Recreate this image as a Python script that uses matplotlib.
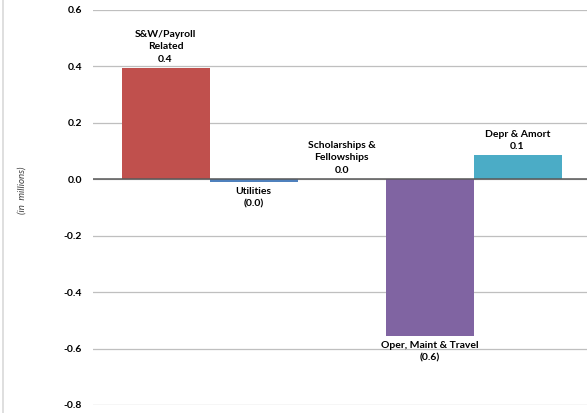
import matplotlib.pyplot as plt
from matplotlib.lines import Line2D

categories = ["S&W/Payroll\nRelated", "Utilities", "Scholarships &\nFellowships",
              "Oper, Maint & Travel", "Depr & Amort"]
values = [0.394, -0.011, 0.002, -0.557, 0.085]
colors = ["#C0504D", "#4F81BD", "#9BBB59", "#8064A2", "#4BACC6"]
yticks = [0.6, 0.4, 0.2, 0.0, -0.2, -0.4, -0.6, -0.8]

plt.rcParams['font.family'] = ['Lato', 'DejaVu Sans']

fig = plt.figure(figsize=(5.87, 4.13), dpi=100)
ax = fig.add_axes([93 / 587, 1 - 405 / 413, 1 - 93 / 587, (405 - 10) / 413])

x = list(range(len(values)))
ax.bar(x, values, width=1.0, color=colors, zorder=2)

ax.set_ylim(-0.8, 0.6)
ax.set_xlim(-0.824, -0.824 + 494 / 88)
ax.set_yticks(yticks)
ax.set_yticklabels([f"{t:.1f}" for t in yticks], fontsize=7.5, fontweight='bold')
ax.tick_params(axis='y', length=0, pad=8)
ax.set_xticks([])
for t in yticks:
    ax.axhline(t, color="#BFBFBF", lw=0.9, zorder=1)
ax.axhline(0, color="#595959", lw=1.1, zorder=3)
for s in ax.spines.values():
    s.set_visible(False)

for xi, v, name in zip(x, values, categories):
    lbl = f"{v:.1f}" if v >= 0 else f"({abs(v):.1f})"
    if v >= 0:
        ax.annotate(f"{name}\n{lbl}", (xi, v), xytext=(0, 3), textcoords="offset points",
                    ha="center", va="bottom", fontsize=7.5, fontweight='bold',
                    linespacing=1.5, zorder=4)
    else:
        ax.annotate(f"{name}\n{lbl}", (xi, v), xytext=(0, -3), textcoords="offset points",
                    ha="center", va="top", fontsize=7.5, fontweight='bold',
                    linespacing=1.5, zorder=4)

fig.text(22 / 587, 1 - 190 / 413, "(in  millions)", rotation=90, fontsize=7,
         style='italic', ha='center', va='center', color="#404040")
fig.add_artist(Line2D([3 / 587, 3 / 587], [0, 1], color="#D9D9D9", lw=1.2,
                      transform=fig.transFigure))

fig.savefig("out.png", dpi=100)
